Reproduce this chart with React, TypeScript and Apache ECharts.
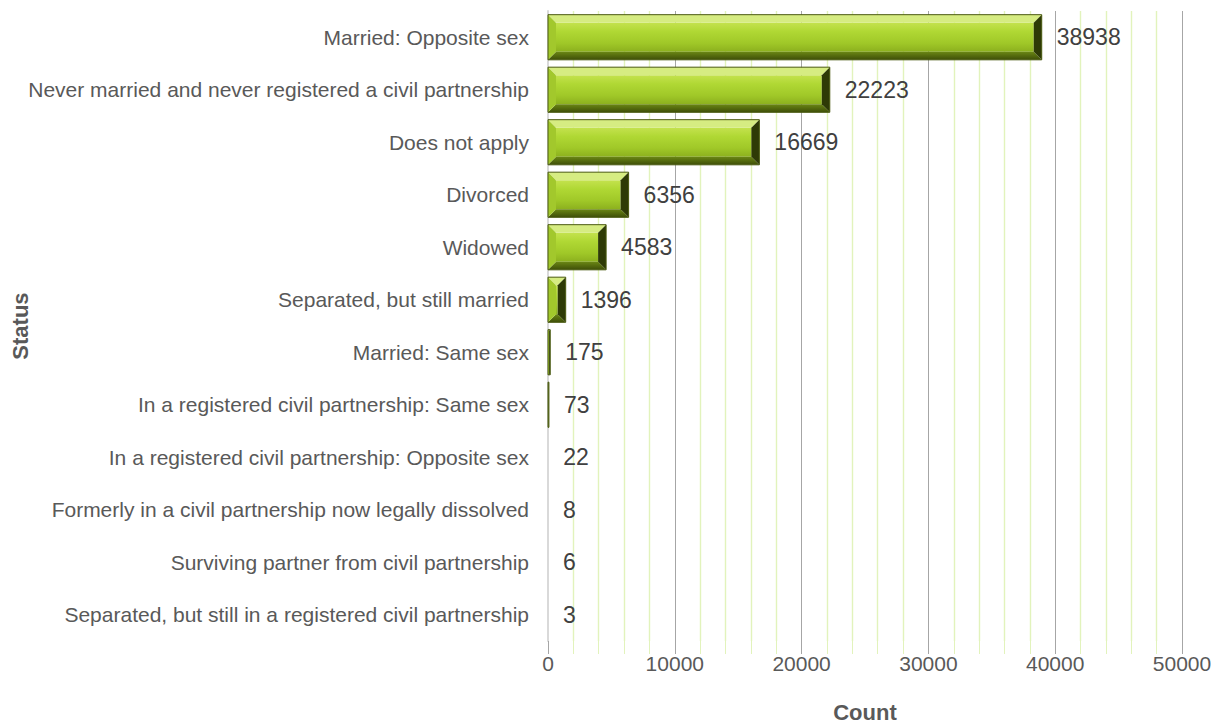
import React, { useEffect, useRef } from "react";
import * as echarts from "echarts";

const categories = [
  "Married: Opposite sex",
  "Never married and never registered a civil partnership",
  "Does not apply",
  "Divorced",
  "Widowed",
  "Separated, but still married",
  "Married: Same sex",
  "In a registered civil partnership: Same sex",
  "In a registered civil partnership: Opposite sex",
  "Formerly in a civil partnership now legally dissolved",
  "Surviving partner from civil partnership",
  "Separated, but still in a registered civil partnership",
];

const counts = [38938, 22223, 16669, 6356, 4583, 1396, 175, 73, 22, 8, 6, 3];

const xTicks = [0, 10000, 20000, 30000, 40000, 50000];

const FONT = "'Liberation Sans', Arial, sans-serif";

export default function App() {
  const ref = useRef<HTMLDivElement>(null);

  useEffect(() => {
    if (!ref.current) return;
    const chart = echarts.init(ref.current, null, { renderer: "svg" });

    const renderItem = (params: any, api: any) => {
      const v = api.value(0);
      const idx = api.value(1);
      const start = api.coord([0, idx]);
      const end = api.coord([v, idx]);
      const h = api.size([0, 1])[1] * 0.86;
      const x0 = start[0];
      const x1 = end[0];
      const yc = start[1];
      const y0 = yc - h / 2;
      const y1 = yc + h / 2;
      const w = Math.max(x1 - x0, 0);
      const b = Math.min(8, w / 2, h / 2);
      const children: any[] = [];
      if (w > 0.3) {
        children.push(
          {
            type: "rect",
            shape: { x: x0 + b, y: y0 + b, width: Math.max(w - 2 * b, 0), height: h - 2 * b },
            style: {
              fill: new echarts.graphic.LinearGradient(0, 0, 0, 1, [
                { offset: 0, color: "#c4e24e" },
                { offset: 0.3, color: "#b0d834" },
                { offset: 0.7, color: "#a0c828" },
                { offset: 1, color: "#8cb01e" },
              ]),
            },
          },
          {
            type: "polygon",
            shape: { points: [[x0, y0], [x1, y0], [x1 - b, y0 + b], [x0 + b, y0 + b]] },
            style: { fill: "#d6ec82" },
          },
          {
            type: "polygon",
            shape: { points: [[x0, y1], [x1, y1], [x1 - b, y1 - b], [x0 + b, y1 - b]] },
            style: {
              fill: new echarts.graphic.LinearGradient(0, 0, 0, 1, [
                { offset: 0, color: "#6a8614" },
                { offset: 1, color: "#3e4e08" },
              ]),
            },
          },
          {
            type: "polygon",
            shape: { points: [[x0, y0], [x0 + b, y0 + b], [x0 + b, y1 - b], [x0, y1]] },
            style: { fill: "#a2c82c" },
          },
          {
            type: "polygon",
            shape: { points: [[x1, y0], [x1 - b, y0 + b], [x1 - b, y1 - b], [x1, y1]] },
            style: { fill: "#2e3a06" },
          },
          {
            type: "rect",
            shape: { x: x0, y: y0, width: w, height: h },
            style: { fill: "none", stroke: "#4a5a10", lineWidth: 1 },
          }
        );
      }
      children.push({
        type: "text",
        x: x1 + 15,
        y: yc,
        style: {
          text: String(v),
          fill: "#404040",
          font: `23px ${FONT}`,
          verticalAlign: "middle",
          align: "left",
        },
      });
      return { type: "group", children };
    };

    chart.setOption({
      animation: false,
      backgroundColor: "#ffffff",
      grid: {
        left: 548,
        right: 39,
        top: 11,
        bottom: 86,
        containLabel: false,
        outerBoundsMode: "none",
      },
      graphic: [
        {
          type: "text",
          x: 20,
          y: 326,
          rotation: Math.PI / 2,
          style: {
            text: "Status",
            fill: "#595959",
            font: `bold 22px ${FONT}`,
            align: "center",
            verticalAlign: "middle",
          },
        },
      ],
      xAxis: {
        type: "value",
        min: 0,
        max: 50000,
        interval: 10000,
        name: "Count",
        nameLocation: "middle",
        nameGap: 60,
        nameTextStyle: { fontFamily: FONT, fontSize: 22, fontWeight: "bold", color: "#595959" },
        axisLine: { show: false },
        axisTick: { show: true, inside: false, length: 13, lineStyle: { color: "#a6a6a6" } },
        minorTick: { show: true, splitNumber: 5, length: 13, lineStyle: { color: "#e2f3bc" } },
        splitLine: { show: true, lineStyle: { color: "#a6a6a6", width: 1 } },
        minorSplitLine: { show: true, lineStyle: { color: "#e2f3bc", width: 1.4 } },
        axisLabel: {
          margin: 12,
          fontFamily: FONT,
          fontSize: 21,
          color: "#595959",
          formatter: (val: number) => (xTicks.includes(val) ? String(val) : ""),
        },
      },
      yAxis: {
        type: "category",
        data: categories,
        inverse: true,
        axisLine: { show: true, lineStyle: { color: "#d9d9d9", width: 2 } },
        axisTick: { show: false },
        splitLine: { show: false },
        axisLabel: { margin: 19, fontFamily: FONT, fontSize: 21, color: "#595959" },
      },
      series: [
        {
          type: "custom",
          renderItem,
          encode: { x: 0, y: 1 },
          data: counts.map((c, i) => [c, i]),
          z: 3,
        },
      ],
    });

    return () => chart.dispose();
  }, []);

  return (
    <div
      ref={ref}
      style={{ position: "fixed", left: 0, top: 0, width: 1221, height: 727 }}
    />
  );
}
